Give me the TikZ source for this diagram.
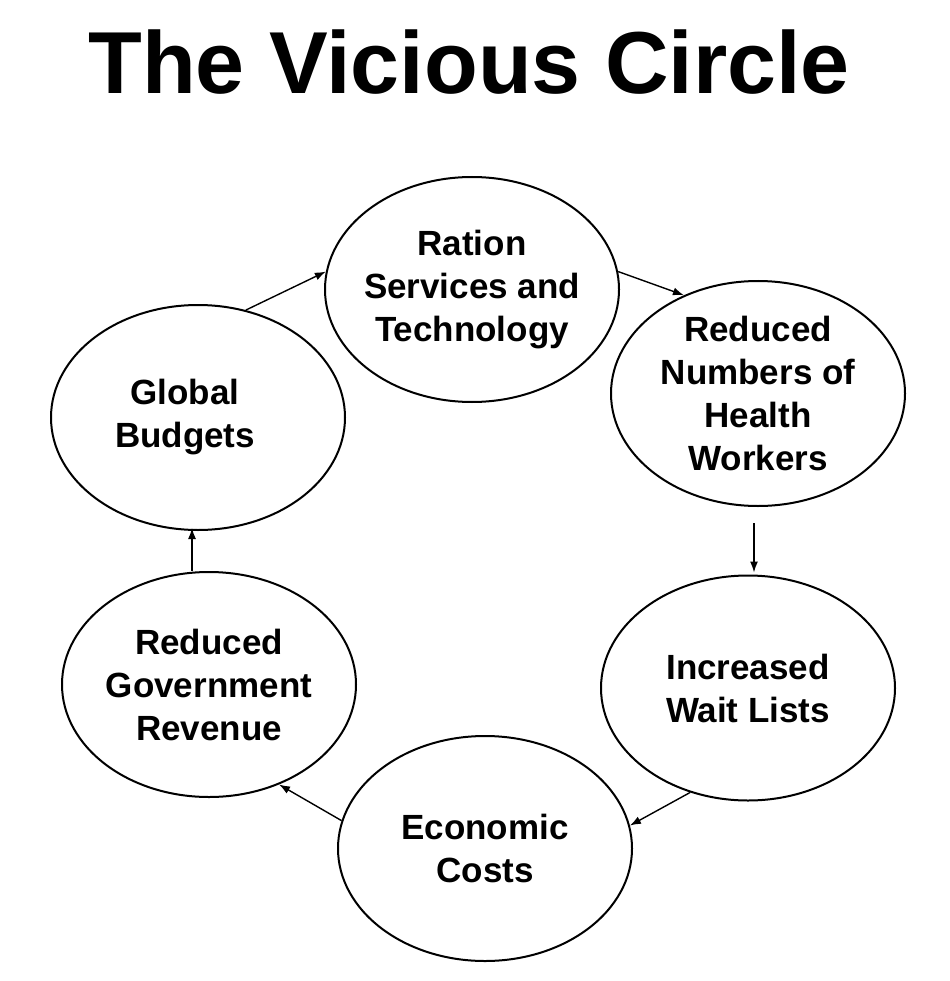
\documentclass[tikz,border=0pt]{standalone}
\usepackage{fontspec}
\setmainfont{Liberation Sans}
\usetikzlibrary{shapes.geometric,arrows.meta}
\begin{document}
\begin{tikzpicture}[x=1pt,y=1pt,
  circ/.style={ellipse,draw=black,line width=2pt,minimum width=294pt,minimum height=225pt,inner xsep=-14pt,inner ysep=0pt,align=center,
    font=\fontsize{35}{43}\selectfont\bfseries},
  arr/.style={line width=1.4pt,-{Latex[length=11pt,width=8pt]}}]
\useasboundingbox (0,0) rectangle (949,-981);
\node (title) at (469,-62) {\fontsize{88}{90}\selectfont\bfseries The Vicious Circle};
\node[circ] (rat) at (472,-289.5) {Ration\\Services and\\Technology};
\node[circ] (rn)  at (758,-393.5) {Reduced\\Numbers of\\Health\\Workers};
\node[circ] (iw)  at (748,-688) {Increased\\Wait Lists};
\node[circ] (ec)  at (485,-848.5) {Economic\\Costs};
\node[circ] (rg)  at (209,-684.5) {Reduced\\Government\\Revenue};
\node[circ] (gb)  at (198,-417.5) {Global\hspace*{26pt}\\Budgets\hspace*{26pt}};
\draw[arr] (gb.66) -- (rat.173);
\draw[arr] (rat.7) -- (rn.127);
\draw[arr] ([xshift=-4pt,yshift=-16pt]rn.south) -- ([xshift=6pt,yshift=2pt]iw.north);
\draw[arr] (iw.241) -- (ec.9);
\draw[arr] (ec.169) -- (rg.-55);
\draw[arr] ([xshift=-17pt]rg.north) -- ([xshift=-6pt,yshift=3pt]gb.south);
\end{tikzpicture}
\end{document}
